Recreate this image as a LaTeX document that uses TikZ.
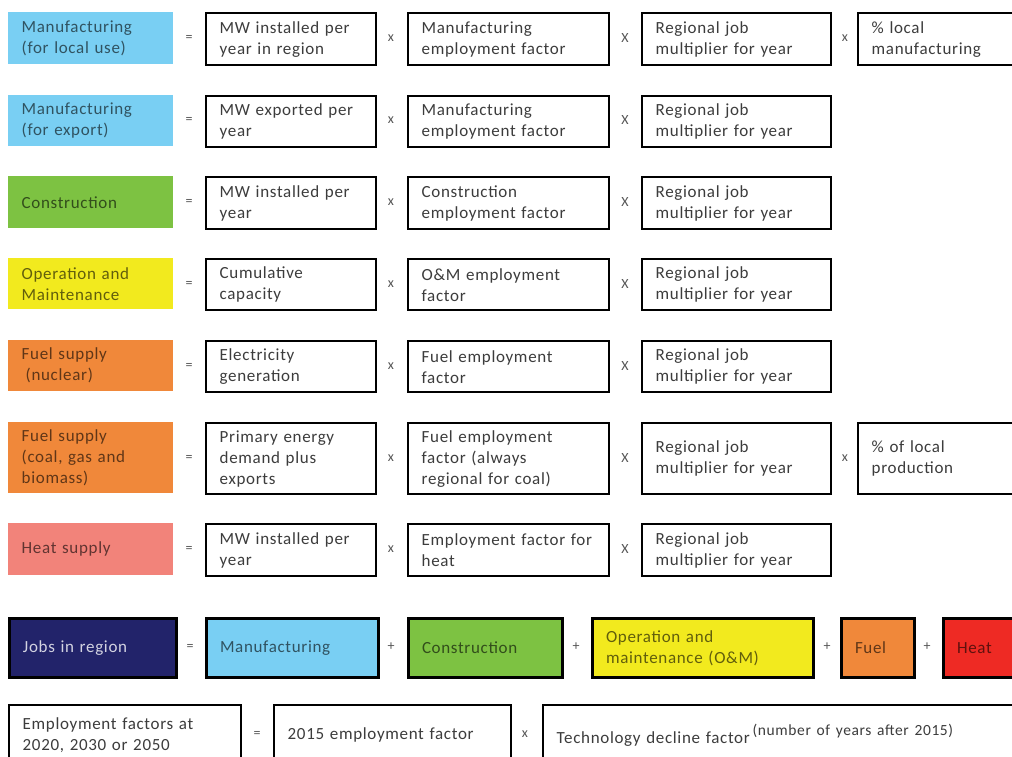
\documentclass[tikz,border=0pt]{standalone}
\usepackage{fontspec}
\setmainfont{Carlito}[LetterSpace=4]
\definecolor{skyb}{HTML}{79CFF3}
\definecolor{leaf}{HTML}{7DC242}
\definecolor{lemon}{HTML}{F2EA1E}
\definecolor{amber}{HTML}{F0883A}
\definecolor{salmon}{HTML}{F2837A}
\definecolor{navyb}{HTML}{22236A}
\definecolor{hotred}{HTML}{EE2A24}
\definecolor{txtgray}{HTML}{3C3C3C}
\definecolor{opgray}{HTML}{555555}

\tikzset{
  wbox/.style={draw=black, line width=2.4pt, fill=white, text=txtgray},
  cbox/.style={fill=#1, text=#1!40!black},
  sbox/.style={draw=black, line width=3pt, fill=#1, text=#1!40!black},
  op/.style={text=opgray, font=\fontsize{14}{14}\selectfont, inner sep=0pt},
}

% box with top-left (x1,y1), bottom-right (x2,y2), left-aligned text
\newcommand\tbox[7]{%
  \pgfmathsetmacro\bxw{#5-#3}%
  \pgfmathsetmacro\bxh{#6-#4}%
  \pgfmathsetmacro\bxt{#5-#3-27}%
  \node[#2, anchor=north west, minimum width=\bxw pt, minimum height=\bxh pt,
        text width=\bxt pt, align=left, inner xsep=13.5pt, inner ysep=0pt]
        (#1) at (#3,#4) {#7};}

\begin{document}
\begin{tikzpicture}[x=1pt, y=-1pt, font=\fontsize{17}{21}\selectfont]
\useasboundingbox (0,0) rectangle (1012,756);
\clip (0,0) rectangle (1012,756);

% Manufacturing for local use
\tbox{m1}{cbox=skyb}{8}{12}{173}{64}{Manufacturing\\(for local use)}
\tbox{m1a}{wbox}{205}{12}{375}{64}{MW installed per\\year in region}
\tbox{m1b}{wbox}{407}{12}{608}{64}{Manufacturing\\employment factor}
\tbox{m1c}{wbox}{641}{12}{830}{64}{Regional job\\multiplier for year}
\tbox{m1d}{wbox}{857}{12}{1030}{64}{\% local\\manufacturing}
\node[op] (m1e) at (189,38) {=};
\node[op] (m1x) at (391,38) {x};
\node[op] (m1y) at (625,38) {X};
\node[op] (m1z) at (845,38) {x};

% Manufacturing for export
\tbox{m2}{cbox=skyb}{8}{95}{173}{146}{Manufacturing\\(for export)}
\tbox{m2a}{wbox}{205}{95}{375}{146}{MW exported per\\year}
\tbox{m2b}{wbox}{407}{95}{608}{146}{Manufacturing\\employment factor}
\tbox{m2c}{wbox}{641}{95}{830}{146}{Regional job\\multiplier for year}
\node[op] (m2e) at (189,120) {=};
\node[op] (m2x) at (391,120) {x};
\node[op] (m2y) at (625,120) {X};

% Construction
\tbox{c3}{cbox=leaf}{8}{176}{173}{228}{Construction}
\tbox{c3a}{wbox}{205}{176}{375}{228}{MW installed per\\year}
\tbox{c3b}{wbox}{407}{176}{608}{228}{Construction\\employment factor}
\tbox{c3c}{wbox}{641}{176}{830}{228}{Regional job\\multiplier for year}
\node[op] (c3e) at (189,202) {=};
\node[op] (c3x) at (391,202) {x};
\node[op] (c3y) at (625,202) {X};

% Operation and maintenance
\tbox{o4}{cbox=lemon}{8}{258}{173}{309}{Operation and\\Maintenance}
\tbox{o4a}{wbox}{205}{258}{375}{309}{Cumulative\\capacity}
\tbox{o4b}{wbox}{407}{258}{608}{309}{O\&M employment\\factor}
\tbox{o4c}{wbox}{641}{258}{830}{309}{Regional job\\multiplier for year}
\node[op] (o4e) at (189,284) {=};
\node[op] (o4x) at (391,284) {x};
\node[op] (o4y) at (625,284) {X};

% Fuel supply, nuclear
\tbox{f5}{cbox=amber}{8}{340}{173}{391}{Fuel supply\\\hspace*{4pt}(nuclear)}
\tbox{f5a}{wbox}{205}{340}{375}{391}{Electricity\\generation}
\tbox{f5b}{wbox}{407}{340}{608}{391}{Fuel employment\\factor}
\tbox{f5c}{wbox}{641}{340}{830}{391}{Regional job\\multiplier for year}
\node[op] (f5e) at (189,366) {=};
\node[op] (f5x) at (391,366) {x};
\node[op] (f5y) at (625,366) {X};

% Fuel supply, coal, gas and biomass
\tbox{f6}{cbox=amber}{8}{422}{173}{493}{Fuel supply\\(coal, gas and\\biomass)}
\tbox{f6a}{wbox}{205}{422}{375}{493}{Primary energy\\demand plus\\exports}
\tbox{f6b}{wbox}{407}{422}{608}{493}{Fuel employment\\factor (always\\regional for coal)}
\tbox{f6c}{wbox}{641}{422}{830}{493}{Regional job\\multiplier for year}
\tbox{f6d}{wbox}{857}{422}{1030}{493}{\% of local\\production}
\node[op] (f6e) at (189,458) {=};
\node[op] (f6x) at (391,458) {x};
\node[op] (f6y) at (625,458) {X};
\node[op] (f6z) at (845,458) {x};

% Heat supply
\tbox{h7}{cbox=salmon}{8}{523}{173}{575}{Heat supply}
\tbox{h7a}{wbox}{205}{523}{375}{575}{MW installed per\\year}
\tbox{h7b}{wbox}{407}{523}{608}{575}{Employment factor for\\heat}
\tbox{h7c}{wbox}{641}{523}{830}{575}{Regional job\\multiplier for year}
\node[op] (h7e) at (189,549) {=};
\node[op] (h7x) at (391,549) {x};
\node[op] (h7y) at (625,549) {X};

% Total jobs
\tbox{j8}{sbox=navyb, text=white!80!navyb}{8}{617}{175}{676}{Jobs in region}
\tbox{j8a}{sbox=skyb}{205}{617}{377}{676}{Manufacturing}
\tbox{j8b}{sbox=leaf}{407}{617}{561}{676}{Construction}
\tbox{j8c}{sbox=lemon}{591}{617}{812}{676}{Operation and\\maintenance (O\&M)}
\tbox{j8d}{sbox=amber}{840}{617}{913}{676}{Fuel}
\tbox{j8f}{sbox=hotred}{942}{617}{1030}{676}{Heat}
\node[op] (j8e) at (190,647) {=};
\node[op] (j8p) at (391,647) {+};
\node[op] (j8q) at (576,647) {+};
\node[op] (j8r) at (827,647) {+};
\node[op] (j8s) at (927,647) {+};

% Employment factor decline
\tbox{e9}{wbox}{8}{704}{240}{764}{Employment factors at\\2020, 2030 or 2050}
\tbox{e9a}{wbox}{273}{704}{510}{764}{2015 employment factor}
\tbox{e9b}{wbox}{542}{704}{1030}{764}{Technology decline factor\,\raisebox{8pt}{\fontsize{15.5}{15.5}\selectfont(number of years after 2015)}}
\node[op] (e9e) at (257,734) {=};
\node[op] (e9x) at (525,734) {x};
\end{tikzpicture}
\end{document}
